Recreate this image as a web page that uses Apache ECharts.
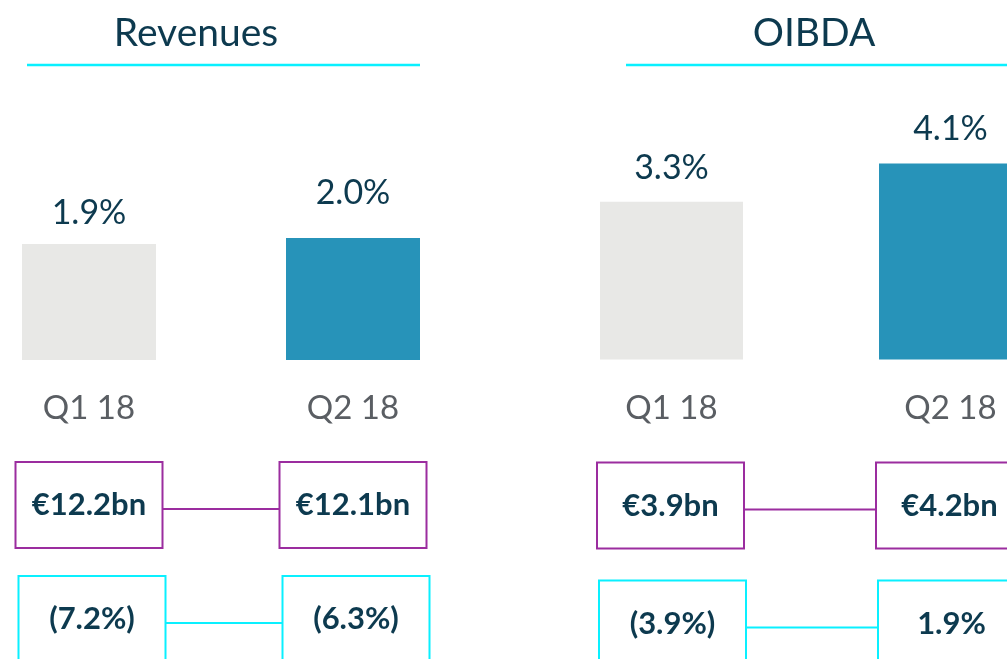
<!DOCTYPE html>
<html>
<head>
<meta charset="utf-8">
<script src="https://cdn.jsdelivr.net/npm/echarts@6/dist/echarts.min.js"></script>
<style>
  html, body { margin: 0; padding: 0; background: #fff; }
  #chart { width: 1007px; height: 659px; }
</style>
</head>
<body>
<div id="chart"></div>
<script>
// data
const categories = ["Q1 18", "Q2 18"]
const panelTitles = ["Revenues", "OIBDA"]
const revenueGrowth = [1.9, 2.0]        // % bar values
const oibdaGrowth = [3.3, 4.1]
const revenueAmount = [12.2, 12.1]      // €bn
const oibdaAmount = [3.9, 4.2]
const revenueChange = [-7.2, -6.3]      // %
const oibdaChange = [-3.9, 1.9]

// colours
const barColors = ["#E8E8E6", "#2793B9"]
const navy = "#0D3A4F"
const purple = "#9B2D9F"
const cyan = "#0AF0FF"
const font = "Lato"

const fmtPct = v => v.toFixed(1) + "%"
const fmtChange = v => (v < 0 ? "(" + Math.abs(v).toFixed(1) + "%)" : v.toFixed(1) + "%")
const fmtAmount = v => "€" + v.toFixed(1) + "bn"

// per panel layout
const panels = [
  { grid: { left: -43, width: 528, top: 55, bottom: 299 }, barWidth: 134, growth: revenueGrowth, amount: revenueAmount, change: revenueChange, labelGap: [14, 28], rowDx: [0, 3], rowTop: [102, 216] },
  { grid: { left: 532, width: 558, top: 120.5, bottom: 299.5 }, barWidth: 143, growth: oibdaGrowth, amount: oibdaAmount, change: oibdaChange, labelGap: [17, 17], rowDx: [-1, 1], rowTop: [103, 221] }
]

const BOX_W = 147
function boxRenderer(panel) {
  return function (params, api) {
    const i = params.dataIndex
    const p = api.coord([i, 0])
    const children = []
    const rows = [
      { top: panel.rowTop[0], h: 86, color: purple, text: fmtAmount(panel.amount[i]), dx: panel.rowDx[0] },
      { top: panel.rowTop[1], h: 95, color: cyan, text: fmtChange(panel.change[i]), dx: panel.rowDx[1] }
    ]
    rows.forEach(r => {
      const cx = p[0] + r.dx
      const lineY = p[1] + r.top + 47
      children.push({
        type: "rect",
        shape: { x: cx - BOX_W / 2, y: p[1] + r.top, width: BOX_W, height: r.h },
        style: { fill: "#fff", stroke: r.color, lineWidth: 2 }
      })
      children.push({
        type: "text",
        style: {
          text: r.text, x: cx, y: lineY - 4,
          align: "center", verticalAlign: "middle",
          fill: navy, font: "bold 31px " + font
        }
      })
      if (i < categories.length - 1) {
        const q = api.coord([i + 1, 0])
        children.push({
          type: "line",
          shape: { x1: cx + BOX_W / 2, y1: lineY, x2: q[0] + r.dx - BOX_W / 2, y2: lineY },
          style: { stroke: r.color, lineWidth: 2 }
        })
      }
    })
    return { type: "group", children: children }
  }
}

const option = {
  animation: false,
  grid: panels.map(p => Object.assign({ outerBoundsMode: "none", containLabel: false }, p.grid)),
  xAxis: panels.map((p, k) => ({
    type: "category",
    gridIndex: k,
    data: categories,
    axisLine: { show: false },
    axisTick: { show: false },
    axisLabel: { color: "#5A5E63", fontSize: 33, fontFamily: font, margin: 32 }
  })),
  yAxis: panels.map((p, k) => ({
    type: "value", gridIndex: k, min: 0, max: 5, show: false
  })),
  graphic: [
    { type: "text", x: 196, y: 33, style: { text: panelTitles[0], align: "center", verticalAlign: "middle", fill: navy, font: "39px " + font } },
    { type: "line", shape: { x1: 27, y1: 65, x2: 420, y2: 65 }, style: { stroke: cyan, lineWidth: 2.5 } },
    { type: "text", x: 814, y: 33, style: { text: panelTitles[1], align: "center", verticalAlign: "middle", fill: navy, font: "39px " + font } },
    { type: "line", shape: { x1: 626, y1: 65, x2: 1007, y2: 65 }, style: { stroke: cyan, lineWidth: 2.5 } }
  ],
  series: []
}

panels.forEach((p, k) => {
  option.series.push({
    type: "bar",
    xAxisIndex: k,
    yAxisIndex: k,
    barWidth: p.barWidth,
    data: p.growth.map((v, i) => ({
      value: v,
      itemStyle: { color: barColors[i] },
      label: { distance: p.labelGap[i] }
    })),
    label: {
      show: true,
      position: "top",
      color: navy,
      fontSize: 34,
      fontFamily: font,
      formatter: params => fmtPct(params.value)
    }
  })
  option.series.push({
    type: "custom",
    xAxisIndex: k,
    yAxisIndex: k,
    data: categories.map((c, i) => [i, 0]),
    renderItem: boxRenderer(p),
    silent: true
  })
})

const myChart = echarts.init(document.getElementById("chart"))
myChart.setOption(option)
</script>
</body>
</html>
